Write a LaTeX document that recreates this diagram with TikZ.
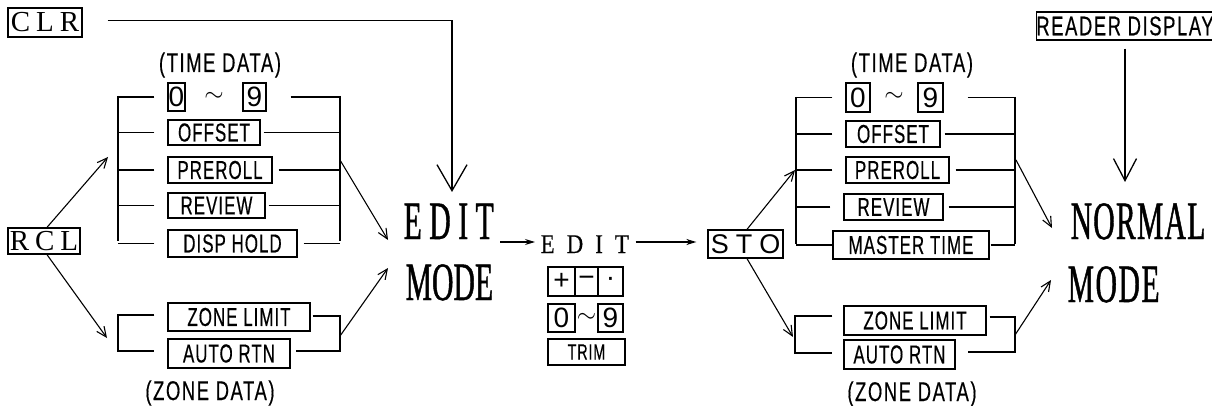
\documentclass[tikz,border=0pt]{standalone}
\usepackage{fontspec}
\setmainfont{Liberation Serif}
\newfontfamily\cond[FakeStretch=0.65,LetterSpace=4,FakeBold=0.4]{Liberation Sans}
\newfontfamily\condlbl[FakeStretch=0.68,LetterSpace=6,FakeBold=0.4]{Liberation Sans}
\newfontfamily\plainsans{Liberation Sans}
\newfontfamily\tall[FakeStretch=0.55,FakeBold=0.8]{Liberation Serif}
\newfontfamily\nserif[FakeStretch=0.85,FakeBold=0.4]{Liberation Serif}
\usetikzlibrary{arrows.meta}
\begin{document}
\begin{tikzpicture}[x=1pt,y=-1pt,line width=1.3pt,
  box/.style={draw, inner sep=0pt, font=\cond\fontsize{26}{26}\selectfont},
  digit/.style={draw, inner sep=0pt, font=\plainsans\fontsize{28}{28}\selectfont},
  serifkey/.style={draw, inner sep=0pt, font=\fontsize{29}{29}\selectfont},
  lbl/.style={font=\condlbl\fontsize{27}{27}\selectfont, anchor=base, inner sep=0pt},
  tilde/.style={font=\fontsize{28}{28}\selectfont, inner sep=0pt},
  big/.style={font=\tall\fontsize{54}{54}\selectfont, anchor=base west, inner sep=0pt},
  diag/.style={-{Straight Barb[length=10pt,width=9pt]}, line width=1.1pt},
  bigarr/.style={-{Straight Barb[length=26pt,width=30pt]}, line width=1.3pt},
  midarr/.style={-{Straight Barb[length=22pt,width=23pt]}, line width=1.3pt},
  harr/.style={-{Stealth[length=10pt,width=6pt]}},
]
\useasboundingbox[fill=white] (0,0) rectangle (1212,406);

% ---------------- left keys ----------------
\node[serifkey, minimum width=74pt, minimum height=29pt] (clr) at (45,22.5) {C\hspace{6pt}L\hspace{6pt}R};
\node[serifkey, minimum width=72pt, minimum height=26pt] (rcl) at (44,241) {R\hspace{6pt}C\hspace{6pt}L};

% left time data group
\node[lbl] (ltime) at (220,72) {(TIME DATA)};
\node[digit, minimum width=17pt, minimum height=28pt] (l0) at (176.5,97) {0};
\node[digit, minimum width=23pt, minimum height=28pt] (l9) at (254.5,97) {9};
\node[tilde] (ltil) at (214,97) {$\sim$};
\node[box, minimum width=92pt, minimum height=25pt] (loffset) at (214,132.5) {OFFSET};
\node[box, minimum width=104pt, minimum height=26pt] (lpreroll) at (220,170) {PREROLL};
\node[box, minimum width=97pt, minimum height=25pt] (lreview) at (216.5,205.5) {REVIEW};
\node[box, minimum width=129pt, minimum height=27pt] (ldisp) at (232.5,243.5) {DISP HOLD};

\coordinate (LTL) at (118,96);
\coordinate (LBL) at (118,241);
\coordinate (LTR) at (340,96);
\coordinate (LBR) at (340,241);
\draw (LTL) -- (LBL);
\draw (LTR) -- (LBR);
\foreach \n in {l0,loffset,lpreroll,lreview,ldisp}{
  \draw ([xshift=-13pt]\n.west) -- (\n.west -| LTL);
}
\draw ([xshift=24pt]l9.east) -- (l9.east -| LTR);
\draw ([xshift=3pt]loffset.east) -- (loffset.east -| LTR);
\draw ([xshift=6pt]lpreroll.east) -- (lpreroll.east -| LTR);
\draw ([xshift=3pt]lreview.east) -- (lreview.east -| LTR);
\draw ([xshift=6pt]ldisp.east) -- (ldisp.east -| LTR);

% left zone data group
\node[box, minimum width=142pt, minimum height=28pt] (lzone) at (239,317) {ZONE LIMIT};
\node[box, minimum width=122pt, minimum height=29pt] (lauto) at (229,353.5) {AUTO RTN};
\node[lbl] (lzdata) at (210,400) {(ZONE DATA)};
\coordinate (LZTL) at (118,315);
\coordinate (LZBL) at (118,351);
\coordinate (LZTR) at (340,316);
\coordinate (LZBR) at (340,351);
\draw ([xshift=-13pt]lzone.west |- LZTL) -- (LZTL) -- (LZBL) -- ([xshift=-13pt]lauto.west |- LZBL);
\draw ([xshift=2pt]lzone.east |- LZTR) -- (LZTR) -- (LZBR) -- ([xshift=5pt]lauto.east |- LZBR);

% EDIT MODE (left)
\node[big] (editw) at (403,239) {E\hspace{7.5pt}D\hspace{7.5pt}I\hspace{7.5pt}T};
\node[big] (modew) at (405,300) {MODE};

% left arrows
\coordinate (clrtip) at (452,192);
\draw[bigarr] ([xshift=25pt,yshift=2pt]clr.east) -| (clrtip);
\coordinate (rclup) at (108,157);
\coordinate (rcldn) at (107,338);
\draw[diag] ([xshift=3pt]rcl.north) -- (rclup);
\draw[diag] ([xshift=3pt]rcl.south) -- (rcldn);
\coordinate (ltsrc) at (340,160);
\coordinate (lttip) at (388,240);
\draw[diag] (ltsrc) -- (lttip);
\coordinate (lzsrc) at (340,336);
\coordinate (lztip) at (388,268);
\draw[diag] (lzsrc) -- (lztip);

% ---------------- middle ----------------
\node[font=\nserif\fontsize{27}{27}\selectfont, anchor=base west, inner sep=0pt] (edits) at (540,253) {E\hspace{12pt}D\hspace{12pt}I\hspace{12pt}T};
\draw[harr] (500,242) coordinate (e1) -- (535,242) coordinate (e2);
\node[serifkey, font=\plainsans\fontsize{27}{27}\selectfont, minimum width=75pt, minimum height=28pt] (sto) at (745.5,244) {S\hspace{7pt}T\hspace{7pt}O};
\draw[harr] ([xshift=6pt]edits.east |- e1) -- ([xshift=-11pt]sto.west |- e1);

\node[digit, minimum width=27pt, minimum height=29pt] (kplus) at (561.5,281.5) {+};
\node[digit, minimum width=23pt, minimum height=29pt] (kminus) at (586.5,281.5) {−};
\node[digit, minimum width=25pt, minimum height=29pt] (kdot) at (610.5,281.5) {·};
\node[digit, minimum width=27pt, minimum height=28pt] (k0) at (561.5,318) {0};
\node[digit, minimum width=25pt, minimum height=28pt] (k9) at (610.5,318) {9};
\node[tilde, font=\fontsize{24}{24}\selectfont] (ktil) at (586.5,318) {$\sim$};
\node[box, font=\cond\fontsize{22}{22}\selectfont, minimum width=77pt, minimum height=26pt] (trim) at (586.5,352) {TRIM};

% ---------------- right ----------------
\node[box, minimum width=170pt, minimum height=28pt, font=\condlbl\fontsize{27}{27}\selectfont] (reader) at (1125,26) {READER DISPLAY};
\node[lbl] (rtime) at (912,72) {(TIME DATA)};
\node[digit, minimum width=24pt, minimum height=29pt] (r0) at (858,97.5) {0};
\node[digit, minimum width=25pt, minimum height=29pt] (r9) at (930.5,97.5) {9};
\node[tilde] (rtil) at (894,97) {$\sim$};
\node[box, minimum width=94pt, minimum height=26pt] (roffset) at (893,134) {OFFSET};
\node[box, minimum width=103pt, minimum height=26pt] (rpreroll) at (897.5,170) {PREROLL};
\node[box, minimum width=99pt, minimum height=26pt] (rreview) at (893.5,207) {REVIEW};
\node[box, minimum width=156pt, minimum height=28pt] (rmaster) at (911,245) {MASTER TIME};

\coordinate (RTL) at (796,97);
\coordinate (RBL) at (796,244);
\coordinate (RTR) at (1015,97);
\coordinate (RBR) at (1015,244);
\draw (RTL) -- (RBL);
\draw (RTR) -- (RBR);
\foreach \n in {r0,roffset,rpreroll,rreview}{
  \draw ([xshift=-13pt]\n.west) -- (\n.west -| RTL);
}
\draw (rmaster.west) -- (rmaster.west -| RTL);
\draw ([xshift=24pt]r9.east) -- (r9.east -| RTR);
\draw ([xshift=4pt]roffset.east) -- (roffset.east -| RTR);
\draw ([xshift=6pt]rpreroll.east) -- (rpreroll.east -| RTR);
\draw ([xshift=5pt]rreview.east) -- (rreview.east -| RTR);
\draw ([xshift=1pt]rmaster.east) -- (rmaster.east -| RTR);

\node[box, minimum width=142pt, minimum height=29pt] (rzone) at (915,320.5) {ZONE LIMIT};
\node[box, minimum width=111pt, minimum height=29pt] (rauto) at (899.5,354.5) {AUTO RTN};
\node[lbl] (rzdata) at (912,401) {(ZONE DATA)};
\coordinate (RZTL) at (795,316);
\coordinate (RZBL) at (795,353);
\coordinate (RZTR) at (1015,317);
\coordinate (RZBR) at (1015,352);
\draw ([xshift=-11pt]rzone.west |- RZTL) -- (RZTL) -- (RZBL) -- ([xshift=-11pt]rauto.west |- RZBL);
\draw ([xshift=3pt]rzone.east |- RZTR) -- (RZTR) -- (RZBR) -- ([xshift=12pt]rauto.east |- RZBR);

\node[big] (normalw) at (1070,239) {N\hspace{1.2pt}O\hspace{1.2pt}R\hspace{1.2pt}M\hspace{1.2pt}A\hspace{1.2pt}L};
\node[big] (rmodew) at (1067,302) {M\hspace{1.5pt}O\hspace{1.5pt}D\hspace{1.5pt}E};

% right arrows
\coordinate (readertip) at (1125,182);
\draw[midarr] ([yshift=-8pt]reader.south) -- (readertip);
\coordinate (stoup) at (795,170);
\coordinate (stodn) at (793,337);
\draw[diag] ([xshift=1.5pt]sto.north) -- (stoup);
\draw[diag] ([xshift=1.5pt]sto.south) -- (stodn);
\coordinate (rtsrc) at (1016,160);
\coordinate (rttip) at (1052,228);
\draw[diag] (rtsrc) -- (rttip);
\coordinate (rzsrc) at (1015,335);
\coordinate (rztip) at (1051,280);
\draw[diag] (rzsrc) -- (rztip);
\end{tikzpicture}
\end{document}
